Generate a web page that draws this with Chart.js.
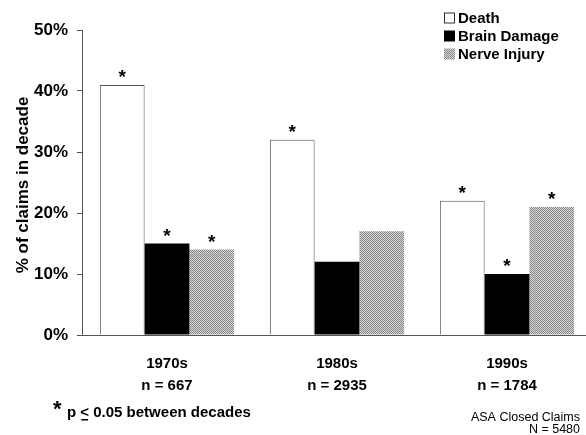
<!DOCTYPE html>
<html>
<head>
<meta charset="utf-8">
<script src="https://cdn.jsdelivr.net/npm/chart.js@4.4.1/dist/chart.umd.min.js"></script>
<style>
  html, body { margin: 0; padding: 0; background: #fff; }
  #wrap { width: 586px; height: 435px; overflow: hidden; }
  canvas { display: block; }
</style>
</head>
<body>
<div id="wrap"><canvas id="chart" width="594" height="435"></canvas></div>
<script>
const decades = ['1970s', '1980s', '1990s'];
const claimCounts = ['n = 667', 'n = 2935', 'n = 1784'];
const seriesNames = ['Death', 'Brain Damage', 'Nerve Injury'];
const deathPct = [41, 32, 22];
const brainPct = [15, 12, 10];
const nervePct = [14, 17, 21];
// which bars carry the significance star
const deathSig = [true, true, true];
const brainSig = [true, false, true];
const nerveSig = [true, false, true];
const yTicks = [0, 10, 20, 30, 40, 50];

const FONT = '"Liberation Sans", Arial, sans-serif';

function halftone() {
    const c = document.createElement('canvas');
    c.width = 4; c.height = 4;
    const g = c.getContext('2d');
    g.fillStyle = '#d8d8d8';
    g.fillRect(0, 0, 4, 4);
    g.fillStyle = '#868686';
    for (let y = 0; y < 4; y++) {
        for (let x = 0; x < 4; x++) {
            if ((x + y) % 2 === 0) g.fillRect(x, y, 1, 1);
        }
    }
    return g.createPattern(c, 'repeat');
}
const nerveFill = halftone();

const starsAndNotes = {
    id: 'starsAndNotes',
    afterDatasetsDraw(chart) {
        const { ctx } = chart;
        const sigs = [deathSig, brainSig, nerveSig];
        ctx.save();
        ctx.fillStyle = '#000';
        ctx.font = 'bold 19px ' + FONT;
        ctx.textAlign = 'center';
        ctx.textBaseline = 'alphabetic';
        chart.data.datasets.forEach((ds, i) => {
            chart.getDatasetMeta(i).data.forEach((bar, j) => {
                if (sigs[i][j]) ctx.fillText('*', bar.x, bar.y - 2);
            });
        });
        ctx.restore();
    },
    afterDraw(chart) {
        const { ctx } = chart;
        ctx.save();
        ctx.fillStyle = '#000';

        // y axis title
        ctx.save();
        ctx.translate(23, 185);
        ctx.rotate(-Math.PI / 2);
        ctx.font = 'bold 17px ' + FONT;
        ctx.textAlign = 'center';
        ctx.textBaseline = 'middle';
        ctx.fillText('% of claims in decade', 0, 0);
        ctx.restore();

        // legend
        const fills = chart.data.datasets.map(d => d.backgroundColor);
        ctx.font = 'bold 15px ' + FONT;
        ctx.textAlign = 'left';
        ctx.textBaseline = 'middle';
        chart.data.datasets.forEach((ds, i) => {
            const cy = 18 + i * 18;
            ctx.fillStyle = fills[i];
            ctx.fillRect(444, cy - 5.5, 11, 11);
            if (i === 0) {
                ctx.strokeStyle = '#333';
                ctx.lineWidth = 1;
                ctx.strokeRect(444.5, cy - 5, 10, 10);
            }
            ctx.fillStyle = '#000';
            ctx.fillText(ds.label, 458, cy + 1);
        });

        // footnote
        ctx.textBaseline = 'alphabetic';
        ctx.font = 'bold 22px ' + FONT;
        ctx.fillText('*', 53, 416);
        ctx.font = 'bold 15px ' + FONT;
        let x = 67;
        ctx.fillText('p ', x, 417);
        x += ctx.measureText('p ').width;
        ctx.fillText('<', x, 417);
        const lw = ctx.measureText('<').width;
        ctx.fillRect(x + 1, 419, lw - 2, 1.5);
        x += lw;
        ctx.fillText(' 0.05 between decades', x, 417);

        // source
        ctx.font = '12.5px ' + FONT;
        ctx.textAlign = 'right';
        ctx.fillText('ASA Closed Claims', 580, 421);
        ctx.fillText('N = 5480', 580, 433);
        ctx.restore();
    }
};

new Chart(document.getElementById('chart'), {
    type: 'bar',
    data: {
        labels: decades.map((d, i) => [d, claimCounts[i]]),
        datasets: [
            { label: seriesNames[0], data: deathPct, backgroundColor: '#ffffff', borderColor: '#555', borderWidth: 1 },
            { label: seriesNames[1], data: brainPct, backgroundColor: '#000000' },
            { label: seriesNames[2], data: nervePct, backgroundColor: nerveFill }
        ]
    },
    options: {
        responsive: false,
        animation: false,
        layout: { padding: { top: 30, left: 0, right: 2, bottom: 0 } },
        categoryPercentage: 0.79,
        barPercentage: 1.0,
        plugins: {
            legend: { display: false },
            tooltip: { enabled: false }
        },
        scales: {
            x: {
                afterFit(scale) { scale.height = 100; },
                grid: { display: false },
                border: { display: true, color: '#555', width: 1 },
                ticks: {
                    color: '#000',
                    font: { family: FONT, size: 15, weight: 'bold', lineHeight: '22px' },
                    padding: 10,
                    maxRotation: 0
                }
            },
            y: {
                min: 0,
                max: 50,
                afterFit(scale) { scale.width = 82; },
                afterBuildTicks(scale) { scale.ticks = yTicks.map(v => ({ value: v })); },
                grid: { display: true, drawOnChartArea: false, drawTicks: true, tickLength: 5, color: '#555' },
                border: { display: true, color: '#555', width: 1 },
                ticks: {
                    color: '#000',
                    font: { family: FONT, size: 17, weight: 'bold' },
                    padding: 9,
                    callback: v => v + '%'
                }
            }
        }
    },
    plugins: [starsAndNotes]
});
</script>
</body>
</html>
